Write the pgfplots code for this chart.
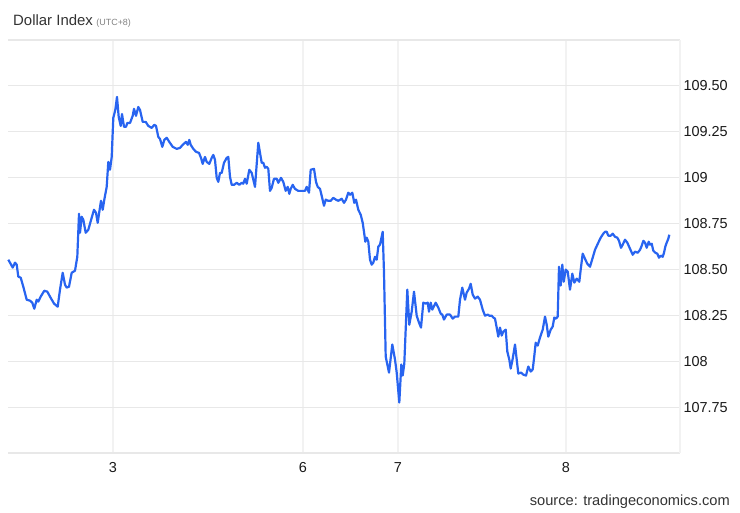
\documentclass[border=0pt]{standalone}
\usepackage{pgfplots}
\usepackage{pgfplotstable}
\pgfplotsset{compat=1.18}
\usepackage{fontspec}
\setmainfont{Liberation Sans}
\definecolor{lineblue}{RGB}{40,100,240}
\definecolor{gridgray}{RGB}{232,232,232}
\definecolor{vgridgray}{RGB}{242,242,242}
\definecolor{titlegray}{RGB}{51,51,51}
\definecolor{subgray}{RGB}{130,130,130}

\pgfplotstableread{
x y
8.3 108.553
10 108.537
12.7 108.510
15 108.537
16.7 108.526
18.3 108.461
20.7 108.455
23.3 108.406
26.7 108.335
30 108.330
32.3 108.319
34.3 108.286
36.7 108.335
38.3 108.325
40.7 108.352
44.3 108.384
47.3 108.379
50 108.352
54 108.314
57.7 108.297
60 108.390
62.7 108.482
65 108.417
66.7 108.401
69 108.406
71.7 108.482
75 108.493
77.3 108.569
79 108.803
80 108.700
81.7 108.787
83.3 108.771
85.7 108.700
88.3 108.716
91.7 108.782
94 108.825
96 108.809
97.7 108.754
99.3 108.814
101 108.874
102.7 108.825
104.3 108.880
106.7 108.950
108.3 109.086
110 109.043
111.7 109.113
113.3 109.326
115.3 109.369
117 109.440
118.7 109.331
120.7 109.282
122 109.347
124 109.277
126 109.277
127.3 109.298
130 109.298
132.7 109.337
134 109.375
136 109.337
138.3 109.385
140 109.369
142.7 109.304
145.7 109.304
148.3 109.282
151.7 109.271
154.3 109.288
156 109.282
158.3 109.222
160 109.211
162.3 109.168
164.3 109.206
166.7 109.217
169.3 109.195
172.7 109.168
176.7 109.157
180 109.162
182.7 109.179
186 109.195
187.7 109.179
189.3 109.206
190.7 109.179
193.3 109.157
196 109.141
199 109.135
201 109.108
202.7 109.075
205 109.113
206.7 109.086
209.3 109.075
211.7 109.108
213.3 109.124
215 109.097
216.7 108.999
218.3 108.977
220 109.026
221.7 109.026
224 109.081
226.7 109.108
228.3 109.113
230 109.005
231.7 108.961
234 108.961
236.7 108.972
239.3 108.961
241.7 108.972
243.3 108.967
245 108.994
246.7 108.967
249.3 109.043
251.7 109.026
255 108.950
258.3 109.190
260 109.135
261.7 109.081
263.3 109.081
265 109.054
266.7 109.059
268.3 109.048
270 108.928
271.7 108.945
274 108.994
276.7 108.994
278.3 108.972
281 108.999
283.3 108.977
285.7 108.928
287.7 108.950
289.3 108.912
290.7 108.939
292.7 108.961
295 108.939
298.3 108.928
301.7 108.928
305 108.928
306.7 108.950
309 108.918
310.7 109.043
314 109.048
316 108.977
317.7 108.950
320 108.939
321.7 108.901
324 108.847
325.7 108.880
328.3 108.874
330.7 108.874
333.3 108.890
336 108.880
338.3 108.874
341.7 108.885
344 108.863
346 108.880
348.3 108.918
350 108.907
352.3 108.918
354.3 108.863
356 108.880
358.3 108.825
360.7 108.798
362.7 108.754
364 108.705
365.3 108.651
366.7 108.673
368.3 108.651
370 108.553
371.7 108.526
373.3 108.537
375 108.569
376.7 108.553
378.3 108.624
380 108.635
382.7 108.705
384 108.482
385.7 108.025
389 107.938
392.3 108.091
395 108.009
396.7 107.938
399.3 107.775
401.3 107.982
402.7 107.922
404.3 107.987
407.3 108.390
409.3 108.199
411.7 108.270
414 108.379
416.7 108.248
419 108.210
421 108.183
423.3 108.319
425.7 108.314
427.7 108.319
429 108.270
430.7 108.319
432.3 108.281
435.7 108.319
438.3 108.292
440.7 108.259
442.3 108.254
444 108.227
446.7 108.254
450 108.254
452.7 108.232
455 108.243
458.3 108.243
460 108.335
462.3 108.401
465 108.335
466.7 108.374
469 108.395
470.7 108.422
472.7 108.363
475 108.341
477.7 108.352
480 108.335
482.7 108.281
485 108.248
487.7 108.254
489.3 108.248
491.7 108.248
493.3 108.238
495 108.232
496.7 108.183
498.3 108.134
500 108.183
501.7 108.140
503.3 108.161
505.7 108.172
507.3 108.053
509.3 108.009
510.7 107.960
512.7 108.014
515 108.091
516.7 108.009
518.3 107.933
521 107.938
523.3 107.927
526 107.922
528.3 107.971
530.7 107.944
532.7 107.955
534 108.014
535.7 108.101
537.7 108.085
540 108.129
542.7 108.172
545 108.243
546.7 108.199
548.3 108.134
550.7 108.172
552.7 108.189
554.3 108.238
556 108.232
557.7 108.243
559 108.515
560.7 108.412
562.3 108.526
563.7 108.433
565.7 108.499
567.7 108.488
570 108.390
572.3 108.477
574.3 108.428
576.7 108.450
579.3 108.433
580.7 108.499
582.7 108.586
585 108.558
587.3 108.531
590 108.515
592.7 108.564
595 108.607
598.3 108.646
600.7 108.673
603.3 108.695
605 108.705
606.7 108.705
608.3 108.684
610.7 108.684
612.7 108.695
615 108.678
617.3 108.673
619 108.656
621 108.618
622.7 108.635
625 108.662
627.3 108.646
630 108.613
632.7 108.580
635 108.597
637.7 108.591
640 108.607
641.7 108.629
643.3 108.656
645 108.646
646.7 108.618
648.7 108.651
650 108.635
651.7 108.640
653.3 108.602
655.3 108.591
657.3 108.586
659 108.564
660.7 108.575
662.7 108.569
664 108.591
665.3 108.624
666.7 108.646
668.3 108.667
669.3 108.689
}\dxy

\begin{document}
\begin{tikzpicture}
\useasboundingbox (0,0) rectangle (740bp,513bp);
\begin{axis}[
  at={(8bp,60bp)}, anchor=south west,
  scale only axis, width=672bp, height=413bp,
  xmin=8, xmax=680, ymin=107.5, ymax=109.75,
  axis x line*=bottom, axis y line*=right,
  every outer x axis line/.append style={draw=gridgray, line width=1.2bp},
  every outer y axis line/.append style={draw=vgridgray, line width=1.2bp},
  xtick={113,303,398,566},
  xticklabels={3,6,7,8},
  ytick={107.5,107.75,108,108.25,108.5,108.75,109,109.25,109.5,109.75},
  yticklabels={,107.75,108,108.25,108.50,108.75,109,109.25,109.50,},
  major tick length=0pt,
  xmajorgrids, ymajorgrids,
  x grid style={draw=vgridgray, line width=1.2bp},
  y grid style={draw=gridgray, line width=1.2bp},
  /pgf/number format/assume math mode=true,
  tick label style={font=\fontsize{14.5}{17}\selectfont, text=black!90},
  yticklabel style={anchor=west, xshift=0bp},
  xticklabel style={anchor=north, yshift=-6bp},
  clip=false,
]
\addplot[lineblue, line width=2.2bp, line join=round] table[x=x,y=y]{\dxy};
\end{axis}
\node[anchor=base west, inner sep=0pt, text=titlegray, font=\fontsize{15}{18}\selectfont] (T) at (13bp,487bp) {Dollar Index};
\node[anchor=base west, inner sep=0pt, text=subgray, font=\fontsize{9}{10}\selectfont] at ([xshift=3bp]T.base east) {(UTC+8)};
\node[anchor=base east, inner sep=0pt, text=titlegray, font=\fontsize{14.7}{17}\selectfont] at (730bp,8bp) {source: tradingeconomics.com};
\end{tikzpicture}
\end{document}
